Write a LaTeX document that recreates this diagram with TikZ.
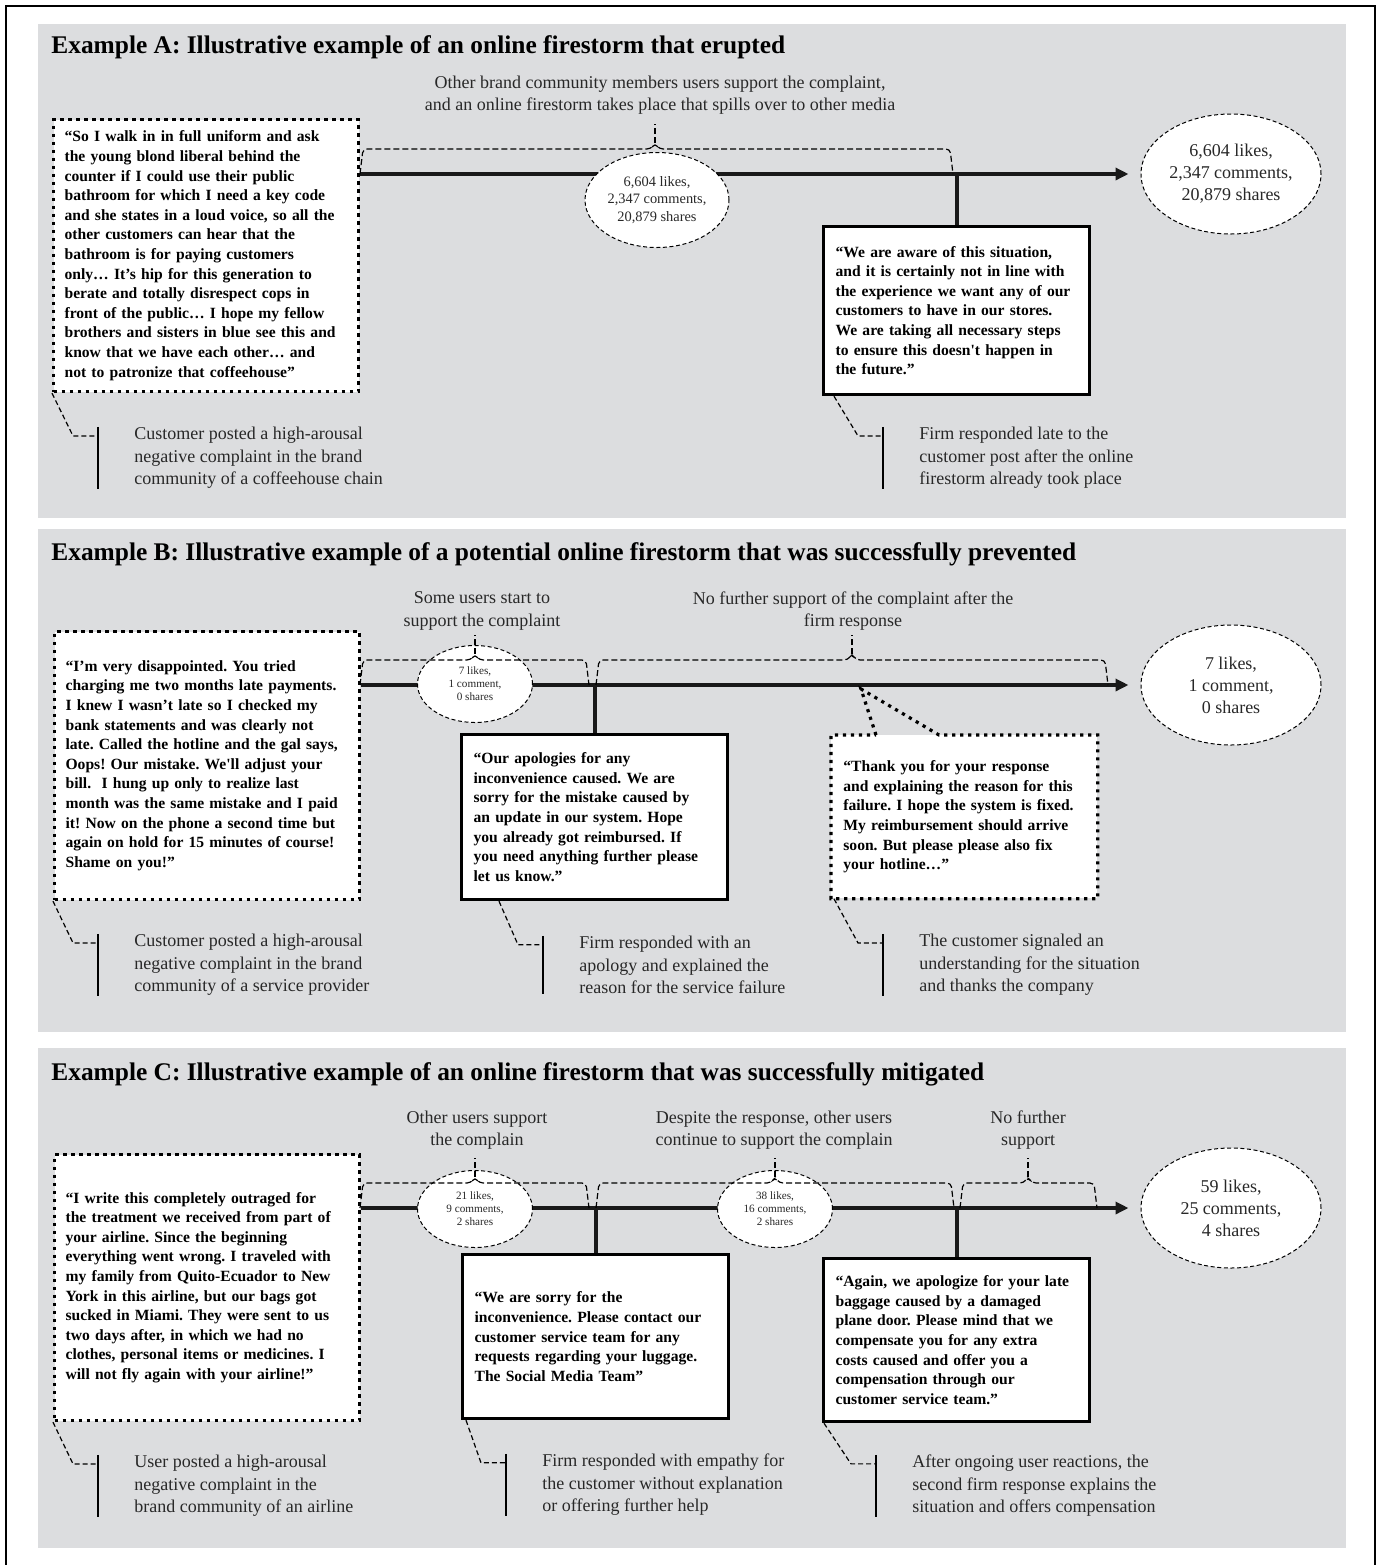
\documentclass[tikz,border=0pt]{standalone}
\usepackage{fontspec}
\setmainfont{Liberation Serif}
\usepackage{tikz}
\usetikzlibrary{
  arrows.meta,
  calc,
  shapes.geometric
}
\definecolor{panelgray}{RGB}{220,221,223}
\definecolor{inkgray}{RGB}{40,40,40}

% dashed brace above the timeline: from x #1 to x #2, tip at x #3, timeline at y #4
\newcommand{\supportbrace}[4]{%
  \draw[bracedash,rounded corners=2pt] (#1,#4) -- (#1+3,#4-25) -- (#3-4,#4-25)
    -- (#3,#4-31) -- (#3+4,#4-25) -- (#2-3,#4-25) -- (#2,#4);
  \draw[bracedash] (#3,#4-31) -- (#3,#4-50);
}

\begin{document}
\frenchspacing
\begin{tikzpicture}[x=0.5pt,y=-0.5pt,
  paneltitle/.style={anchor=base west,inner sep=0,font=\fontsize{12.7}{15}\selectfont\bfseries},
  topnote/.style={align=center,inner sep=0,text=inkgray,font=\fontsize{9}{11.25}\selectfont},
  sidenote/.style={topnote,align=left,anchor=west},
  boxtext/.style={anchor=north west,align=left,fill=white,inner ysep=0pt,font=\fontsize{7.8}{9.8}\selectfont\bfseries},
  dotline/.style={line width=1.6pt,dash pattern=on 1.6pt off 2.4pt},
  quotebox/.style={boxtext,draw,dotline,inner xsep=5.5pt,minimum width=152.5pt,text width=141.5pt},
  firmbox/.style={boxtext,draw,line width=1.6pt,inner xsep=6pt,minimum width=133pt,text width=121pt},
  tally/.style={ellipse,draw,fill=white,line width=0.5pt,dash pattern=on 2pt off 1.3pt,inner sep=0,align=center,text=inkgray},
  bigtally/.style={tally,minimum width=90pt,minimum height=60pt,font=\fontsize{9}{11}\selectfont},
  midtally/.style={tally,minimum width=72pt,minimum height=47.5pt,font=\fontsize{7.2}{8.6}\selectfont},
  smalltally/.style={tally,minimum width=57.5pt,minimum height=38.5pt,font=\fontsize{5.6}{6.5}\selectfont},
  tline/.style={line width=2pt,black!90},
  tarrow/.style={tline,-{Triangle[length=6.5pt,width=6pt]}},
  bracedash/.style={line width=0.6pt,dash pattern=on 3pt off 1.5pt},
  calldash/.style={line width=0.6pt,dash pattern=on 2.5pt off 1.5pt},
  callbar/.style={line width=0.8pt}
]
  \useasboundingbox (0,0) rectangle (1377,1565);

  % panels and frame
  \fill[panelgray] (38,24) rectangle (1346,518);
  \fill[panelgray] (38,529) rectangle (1346,1032);
  \fill[panelgray] (38,1048) rectangle (1346,1548);
  \draw[line width=1pt] (5.5,1565) -- (5.5,5.5) -- (1375,5.5) -- (1375,1565);

  % ---------------- Example A ----------------
  \node[paneltitle] (titleA) at (51,53) {Example A: Illustrative example of an online firestorm that erupted};
  \node[topnote] (noteA) at (660,95) {Other brand community members users support the complaint,\\and an online firestorm takes place that spills over to other media};

  \node[quotebox,minimum height=136pt] (postA) at (52,118) {“So I walk in in full uniform and ask\\the young blond liberal behind the\\counter if I could use their public\\bathroom for which I need a key code\\and she states in a loud voice, so all the\\other customers can hear that the\\bathroom is for paying customers\\only… It’s hip for this generation to\\berate and totally disrespect cops in\\front of the public… I hope my fellow\\brothers and sisters in blue see this and\\know that we have each other… and\\not to patronize that coffeehouse”};
  \node[bigtally] (endA) at (1231,174) {6,604 likes,\\2,347 comments,\\20,879 shares};
  \draw[tarrow] (postA.east |- endA.center) -- ([xshift=-6pt]endA.west);
  \node[midtally] (midA) at (657,200) {6,604 likes,\\2,347 comments,\\20,879 shares};
  \supportbrace{360}{953}{655}{174}

  \node[firmbox,minimum height=84pt] (firmA) at (822,225) {“We are aware of this situation,\\and it is certainly not in line with\\the experience we want any of our\\customers to have in our stores.\\We are taking all necessary steps\\to ensure this doesn\textquotesingle t happen in\\the future.”};
  \draw[tline] (firmA.north) -- (firmA.north |- endA.center);

  \node[sidenote] (sideA1) at (134,458) {Customer posted a high-arousal\\negative complaint in the brand\\community of a coffeehouse chain};
  \draw[calldash] (postA.south west) -- ([xshift=-30.5pt,yshift=-4.5pt]sideA1.north west) -- ([xshift=-18pt,yshift=-4.5pt]sideA1.north west);
  \draw[callbar] ([xshift=-18pt]sideA1.north west) -- ([xshift=-18pt]sideA1.south west);

  \node[sidenote] (sideA2) at (919,458) {Firm responded late to the\\customer post after the online\\firestorm already took place};
  \draw[calldash] ([xshift=6pt]firmA.south west) -- ([xshift=-30.5pt,yshift=-4.5pt]sideA2.north west) -- ([xshift=-18pt,yshift=-4.5pt]sideA2.north west);
  \draw[callbar] ([xshift=-18pt]sideA2.north west) -- ([xshift=-18pt]sideA2.south west);

  % ---------------- Example B ----------------
  \node[paneltitle] (titleB) at (51,560) {Example B: Illustrative example of a potential online firestorm that was successfully prevented};
  \node[topnote] (noteB1) at (482,611) {Some users start to\\support the complaint};
  \node[topnote] (noteB2) at (853,611) {No further support of the complaint after the\\firm response};

  \node[quotebox,minimum height=134pt] (postB) at (53,630) {“I’m very disappointed. You tried\\charging me two months late payments.\\I knew I wasn’t late so I checked my\\bank statements and was clearly not\\late. Called the hotline and the gal says,\\Oops! Our mistake. We\textquotesingle ll adjust your\\bill.\ \ I hung up only to realize last\\month was the same mistake and I paid\\it! Now on the phone a second time but\\again on hold for 15 minutes of course!\\Shame on you!”};
  \node[bigtally] (endB) at (1231,685) {7 likes,\\1 comment,\\0 shares};
  \draw[tarrow] (postB.east |- endB.center) -- ([xshift=-6pt]endB.west);
  \node[smalltally] (midB) at (475,684) {7 likes,\\1 comment,\\0 shares};
  \supportbrace{360}{589}{475}{685}
  \supportbrace{596}{1108}{852}{685}

  \node[firmbox,minimum height=82.5pt] (firmB) at (460,733) {“Our apologies for any\\inconvenience caused. We are\\sorry for the mistake caused by\\an update in our system. Hope\\you already got reimbursed. If\\you need anything further please\\let us know.”};
  \draw[tline] (firmB.north) -- (firmB.north |- endB.center);

  \node[boxtext,inner xsep=6pt,minimum width=133pt,text width=121pt,minimum height=81.5pt] (replyB) at (831,735) {“Thank you for your response\\and explaining the reason for this\\failure. I hope the system is fixed.\\My reimbursement should arrive\\soon. But please please also fix\\your hotline…”};
  \coordinate (tipB) at (861,689);
  \draw[dotline] ([xshift=22.5pt]replyB.north west) -- (tipB) -- ([xshift=54pt]replyB.north west)
    -- (replyB.north east) -- (replyB.south east) -- (replyB.south west) -- (replyB.north west) -- cycle;

  \node[sidenote] (sideB1) at (134,965) {Customer posted a high-arousal\\negative complaint in the brand\\community of a service provider};
  \draw[calldash] (postB.south west) -- ([xshift=-30.5pt,yshift=-4.5pt]sideB1.north west) -- ([xshift=-18pt,yshift=-4.5pt]sideB1.north west);
  \draw[callbar] ([xshift=-18pt]sideB1.north west) -- ([xshift=-18pt]sideB1.south west);

  \node[sidenote] (sideB2) at (579,965) {Firm responded with an\\apology and explained the\\reason for the service failure};
  \draw[calldash] ([xshift=19.5pt]firmB.south west) -- ([xshift=-30.5pt,yshift=-4.5pt]sideB2.north west) -- ([xshift=-18pt,yshift=-4.5pt]sideB2.north west);
  \draw[callbar] ([xshift=-18pt]sideB2.north west) -- ([xshift=-18pt]sideB2.south west);

  \node[sidenote] (sideB3) at (919,965) {The customer signaled an\\understanding for the situation\\and thanks the company};
  \draw[calldash] ([xshift=1.5pt]replyB.south west) -- ([xshift=-30.5pt,yshift=-4.5pt]sideB3.north west) -- ([xshift=-18pt,yshift=-4.5pt]sideB3.north west);
  \draw[callbar] ([xshift=-18pt]sideB3.north west) -- ([xshift=-18pt]sideB3.south west);

  % ---------------- Example C ----------------
  \node[paneltitle] (titleC) at (51,1080) {Example C: Illustrative example of an online firestorm that was successfully mitigated};
  \node[topnote] (noteC1) at (477,1130) {Other users support\\the complain};
  \node[topnote] (noteC2) at (774,1130) {Despite the response, other users\\continue to support the complain};
  \node[topnote] (noteC3) at (1028,1130) {No further\\support};

  \node[quotebox,minimum height=133pt] (postC) at (53,1153) {“I write this completely outraged for\\the treatment we received from part of\\your airline. Since the beginning\\everything went wrong. I traveled with\\my family from Quito-Ecuador to New\\York in this airline, but our bags got\\sucked in Miami. They were sent to us\\two days after, in which we had no\\clothes, personal items or medicines. I\\will not fly again with your airline!”};
  \node[bigtally] (endC) at (1231,1208) {59 likes,\\25 comments,\\4 shares};
  \draw[tarrow] (postC.east |- endC.center) -- ([xshift=-6pt]endC.west);
  \node[smalltally] (midC1) at (475,1209) {21 likes,\\9 comments,\\2 shares};
  \node[smalltally] (midC2) at (775,1209) {38 likes,\\16 comments,\\2 shares};
  \supportbrace{360}{589}{475}{1208}
  \supportbrace{596}{954}{775}{1208}
  \supportbrace{960}{1097}{1028}{1208}

  \node[firmbox,minimum height=82pt] (firmC1) at (461,1253) {“We are sorry for the\\inconvenience. Please contact our\\customer service team for any\\requests regarding your luggage.\\The Social Media Team”};
  \draw[tline] (firmC1.north) -- (firmC1.north |- endC.center);

  \node[firmbox,minimum height=81.5pt] (firmC2) at (822,1257) {“Again, we apologize for your late\\baggage caused by a damaged\\plane door. Please mind that we\\compensate you for any extra\\costs caused and offer you a\\compensation through our\\customer service team.”};
  \draw[tline] (firmC2.north) -- (firmC2.north |- endC.center);

  \node[sidenote] (sideC1) at (134,1486) {User posted a high-arousal\\negative complaint in the\\brand community of an airline};
  \draw[calldash] (postC.south west) -- ([xshift=-30.5pt,yshift=-4.5pt]sideC1.north west) -- ([xshift=-18pt,yshift=-4.5pt]sideC1.north west);
  \draw[callbar] ([xshift=-18pt]sideC1.north west) -- ([xshift=-18pt]sideC1.south west);

  \node[sidenote] (sideC2) at (542,1485) {Firm responded with empathy for\\the customer without explanation\\or offering further help};
  \draw[calldash] ([xshift=2.5pt]firmC1.south west) -- ([xshift=-30.5pt,yshift=-4.5pt]sideC2.north west) -- ([xshift=-18pt,yshift=-4.5pt]sideC2.north west);
  \draw[callbar] ([xshift=-18pt]sideC2.north west) -- ([xshift=-18pt]sideC2.south west);

  \node[sidenote] (sideC3) at (912,1486) {After ongoing user reactions, the\\second firm response explains the\\situation and offers compensation};
  \draw[calldash] ([xshift=1pt]firmC2.south west) -- ([xshift=-30.5pt,yshift=-4.5pt]sideC3.north west) -- ([xshift=-18pt,yshift=-4.5pt]sideC3.north west);
  \draw[callbar] ([xshift=-18pt]sideC3.north west) -- ([xshift=-18pt]sideC3.south west);
\end{tikzpicture}
\end{document}
